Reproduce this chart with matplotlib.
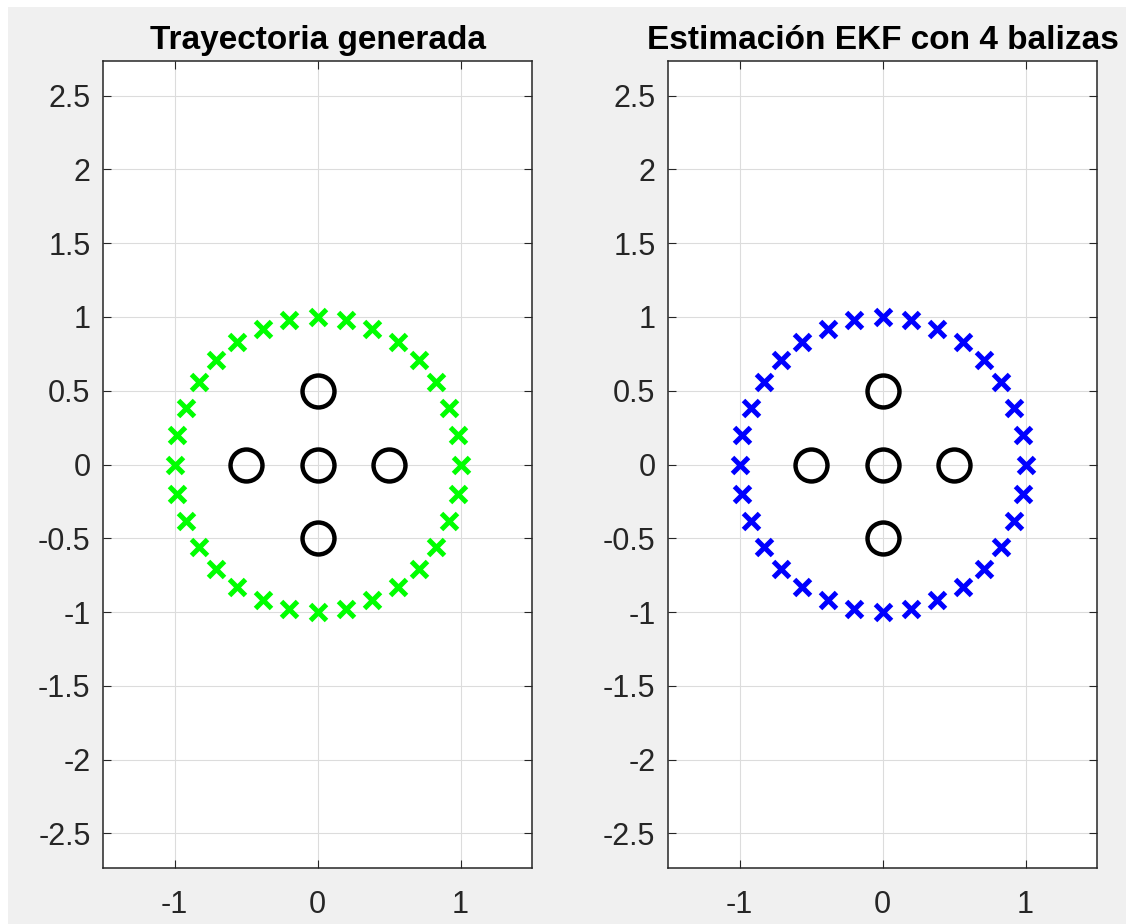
import matplotlib.pyplot as plt
from matplotlib.patches import Rectangle

plt.rcParams['font.family'] = ['Liberation Sans', 'DejaVu Sans']

# robot positions along the circular path (generated and EKF-estimated)
traj_x = [1.00, 0.98, 0.92, 0.83, 0.71, 0.56, 0.38, 0.20, 0.00, -0.20, -0.38, -0.56, -0.71, -0.83, -0.92, -0.98,
          -1.00, -0.98, -0.92, -0.83, -0.71, -0.56, -0.38, -0.20, 0.00, 0.20, 0.38, 0.56, 0.71, 0.83, 0.92, 0.98]
traj_y = [0.00, 0.20, 0.38, 0.56, 0.71, 0.83, 0.92, 0.98, 1.00, 0.98, 0.92, 0.83, 0.71, 0.56, 0.38, 0.20,
          0.00, -0.20, -0.38, -0.56, -0.71, -0.83, -0.92, -0.98, -1.00, -0.98, -0.92, -0.83, -0.71, -0.56, -0.38, -0.20]
est_x = [1.00, 0.98, 0.92, 0.83, 0.71, 0.56, 0.38, 0.20, 0.00, -0.20, -0.38, -0.56, -0.71, -0.83, -0.92, -0.98,
         -1.00, -0.98, -0.92, -0.83, -0.71, -0.56, -0.38, -0.20, 0.00, 0.20, 0.38, 0.56, 0.71, 0.83, 0.92, 0.98]
est_y = [0.00, 0.20, 0.38, 0.56, 0.71, 0.83, 0.92, 0.98, 1.00, 0.98, 0.92, 0.83, 0.71, 0.56, 0.38, 0.20,
         0.00, -0.20, -0.38, -0.56, -0.71, -0.83, -0.92, -0.98, -1.00, -0.98, -0.92, -0.83, -0.71, -0.56, -0.38, -0.20]

# beacon positions
beacon_x = [0.0, 0.0, 0.5, -0.5, 0.0]
beacon_y = [0.5, 0.0, 0.0, 0.0, -0.5]

titles = ['Trayectoria generada', 'Estimación EKF con 4 balizas']
colors = ['#00ff00', '#0000ff']
xticks = [-1, 0, 1]
yticks = [-2.5, -2, -1.5, -1, -0.5, 0, 0.5, 1, 1.5, 2, 2.5]
ytick_labels = ['-2.5', '-2', '-1.5', '-1', '-0.5', '0', '0.5', '1', '1.5', '2', '2.5']

fig = plt.figure(figsize=(11.26, 9.24), dpi=100, facecolor='white')
fig.patches.append(Rectangle((8 / 1126, 0), 1, 917 / 924, transform=fig.transFigure,
                             facecolor='#f0f0f0', edgecolor='none', zorder=-10))

positions = [[103 / 1126, 56 / 924, 429 / 1126, 807 / 924],
             [668 / 1126, 56 / 924, 429 / 1126, 807 / 924]]
data = [(traj_x, traj_y), (est_x, est_y)]

for pos, (px, py), title, col in zip(positions, data, titles, colors):
    ax = fig.add_axes(pos)
    ax.plot(px, py, linestyle='none', marker='x', markersize=12, markeredgewidth=3.6,
            color=col, zorder=3)
    ax.plot(beacon_x, beacon_y, linestyle='none', marker='o', markersize=23,
            markeredgewidth=3.2, markeredgecolor='black', markerfacecolor='none', zorder=4)

    ax.set_xlim(-1.5, 1.5)
    ax.set_ylim(-2.735, 2.735)
    ax.set_xticks(xticks)
    ax.set_xticklabels([str(t) for t in xticks])
    ax.set_yticks(yticks)
    ax.set_yticklabels(ytick_labels)
    ax.grid(True, color='#dcdcdc', linewidth=0.8)
    ax.set_axisbelow(True)
    ax.tick_params(direction='in', length=6, width=0.8, top=True, right=True,
                   labelsize=22, colors='#262626')
    ax.tick_params(axis='y', pad=9)
    ax.tick_params(axis='x', pad=16)
    for sp in ax.spines.values():
        sp.set_color('#262626')
        sp.set_linewidth(1.1)
    ax.set_title(title, fontsize=24, fontweight='bold', pad=9)

fig.savefig('out.png', dpi=100, facecolor=fig.get_facecolor())
